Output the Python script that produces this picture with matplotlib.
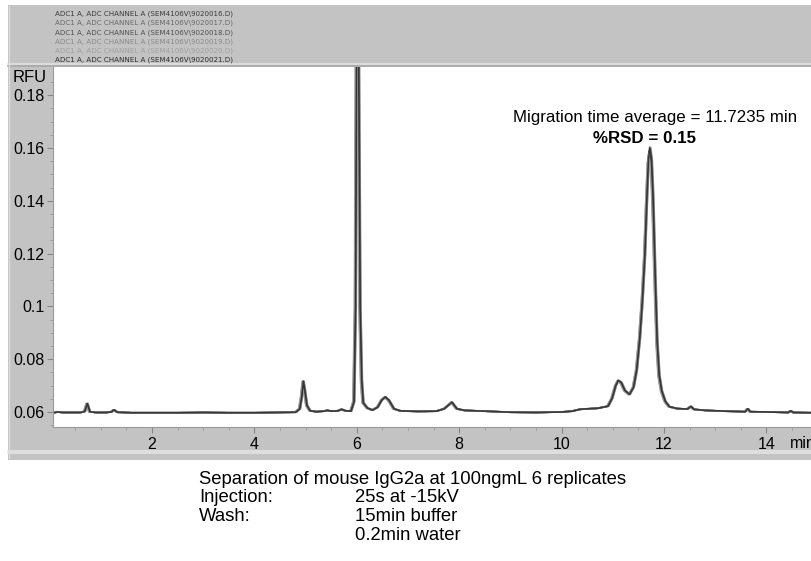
import matplotlib
matplotlib.use("Agg")
import matplotlib.pyplot as plt
from matplotlib.patches import Rectangle
import numpy as np

plt.rcParams['font.family'] = ['Liberation Sans', 'DejaVu Sans']

# ---- data ----
time_min = [0.07, 0.15, 0.25, 0.40, 0.60, 0.68, 0.73, 0.78, 0.90, 1.10, 1.20, 1.25, 1.32, 1.60,
            2.00, 2.50, 3.00, 3.50, 4.00, 4.40, 4.80, 4.88, 4.92, 4.95, 4.98, 5.02, 5.08, 5.20,
            5.35, 5.42, 5.50, 5.62, 5.70, 5.78, 5.88, 5.94, 5.97, 6.00, 6.03, 6.06, 6.09, 6.12,
            6.20, 6.30, 6.40, 6.48, 6.55, 6.62, 6.72, 6.85, 7.20, 7.55, 7.70, 7.85, 7.95, 8.10,
            8.50, 9.00, 9.50, 10.00, 10.20, 10.35, 10.50, 10.70, 10.90, 10.98, 11.05, 11.10,
            11.16, 11.23, 11.32, 11.40, 11.46, 11.52, 11.57, 11.62, 11.66, 11.69, 11.72, 11.75,
            11.78, 11.82, 11.86, 11.90, 11.95, 12.02, 12.10, 12.25, 12.45, 12.52, 12.58, 12.80,
            13.20, 13.58, 13.63, 13.68, 14.00, 14.42, 14.47, 14.52, 14.89]
rfu = [0.0597, 0.0600, 0.0598, 0.0598, 0.0598, 0.0602, 0.0632, 0.0601, 0.0598, 0.0598, 0.0600,
       0.0608, 0.0599, 0.0597, 0.0597, 0.0597, 0.0598, 0.0597, 0.0597, 0.0598, 0.0599, 0.0612,
       0.0660, 0.0717, 0.0680, 0.0625, 0.0605, 0.0601, 0.0603, 0.0606, 0.0603, 0.0604, 0.0610,
       0.0604, 0.0603, 0.0640, 0.1000, 0.2500, 0.2000, 0.1000, 0.0720, 0.0635, 0.0615, 0.0607,
       0.0618, 0.0645, 0.0657, 0.0645, 0.0612, 0.0604, 0.0602, 0.0603, 0.0612, 0.0637, 0.0612,
       0.0606, 0.0603, 0.0599, 0.0598, 0.0600, 0.0603, 0.0610, 0.0612, 0.0614, 0.0622, 0.0652,
       0.0700, 0.0720, 0.0712, 0.0682, 0.0667, 0.0695, 0.0760, 0.0880, 0.1020, 0.1200, 0.1420,
       0.1560, 0.1603, 0.1560, 0.1420, 0.1130, 0.0870, 0.0740, 0.0680, 0.0640, 0.0620, 0.0613,
       0.0611, 0.0621, 0.0610, 0.0606, 0.0603, 0.0601, 0.0612, 0.0601, 0.0600, 0.0598, 0.0604,
       0.0598, 0.0597]

replicates = ['ADC1 A, ADC CHANNEL A (SEM4106V\\9020016.D)',
              'ADC1 A, ADC CHANNEL A (SEM4106V\\9020017.D)',
              'ADC1 A, ADC CHANNEL A (SEM4106V\\9020018.D)',
              'ADC1 A, ADC CHANNEL A (SEM4106V\\9020019.D)',
              'ADC1 A, ADC CHANNEL A (SEM4106V\\9020020.D)',
              'ADC1 A, ADC CHANNEL A (SEM4106V\\9020021.D)']
rep_time_shift = [0.000, 0.015, -0.012, 0.020, -0.018, 0.006]
rep_height = [1.000, 0.990, 0.985, 1.000, 0.975, 0.995]
rep_colors = ['#3a3a3a', '#6a6a6a', '#505050', '#8a8a8a', '#a0a0a0', '#2e2e2e']

x_ticks = [2, 4, 6, 8, 10, 12, 14]
y_ticks = [0.06, 0.08, 0.10, 0.12, 0.14, 0.16, 0.18]
y_ticklabels = ['0.06', '0.08', '0.1', '0.12', '0.14', '0.16', '0.18']

annot_line1 = 'Migration time average = 11.7235 min'
annot_line2 = '%RSD = 0.15'
caption = ['Separation of mouse IgG2a at 100ngmL 6 replicates',
           ('Injection:', '25s at -15kV'),
           ('Wash:', '15min buffer'),
           ('', '0.2min water')]

# ---- figure ----
W, H = 812, 561
fig = plt.figure(figsize=(W / 100, H / 100), dpi=100)
fig.patch.set_facecolor('white')

def fx(px):
    return px / W

def fy(py):
    return 1 - py / H

gray = '#c3c3c3'
# main gray panel
fig.patches.append(Rectangle((fx(8), fy(460)), fx(812 - 8), (460 - 5) / H,
                             transform=fig.transFigure, facecolor=gray,
                             edgecolor='none', zorder=-5))
# separator lines
for py, c in [(64, '#e2e2e2'), (66, '#a8a8a8'), (451, '#e4e4e4'), (453, '#e4e4e4')]:
    fig.add_artist(plt.Line2D([fx(8), 1], [fy(py), fy(py)], transform=fig.transFigure,
                              color=c, lw=1.2, zorder=-4))
fig.add_artist(plt.Line2D([fx(9), fx(9)], [fy(458), fy(6)], transform=fig.transFigure,
                          color='#dcdcdc', lw=1.0, zorder=-4))

# legend lines
for i, (name, c) in enumerate(zip(replicates, rep_colors)):
    fig.text(fx(55), fy(14 + i * 9.2), name, fontsize=5.1, color=c,
             va='center', ha='left', family='DejaVu Sans')

ax = fig.add_axes([fx(53), fy(427), fx(812 - 53), (427 - 67) / H])
ax.set_zorder(5)
ax.set_facecolor('white')
t = np.array(time_min)
v = np.array(rfu)
base = 0.0598
for sh, hs, c in zip(rep_time_shift, rep_height, rep_colors):
    ax.plot(t + sh, base + (v - base) * hs, color=c, lw=1.2, alpha=0.9)

ax.set_xlim(0.066, 14.89)
ax.set_ylim(0.0543, 0.1907)
ax.set_xticks(x_ticks)
ax.set_xticklabels([str(x) for x in x_ticks])
ax.set_xticks(np.arange(0.5, 14.9, 0.5), minor=True)
ax.set_yticks(y_ticks)
ax.set_yticklabels(y_ticklabels)
ax.set_yticks(np.arange(0.055, 0.19, 0.005), minor=True)
ax.tick_params(axis='both', which='major', direction='out', length=4, width=0.8,
               color='#888888', labelsize=11.5, pad=2)
ax.tick_params(axis='both', which='minor', direction='out', length=2.5, width=0.6,
               color='#999999')
ax.tick_params(axis='x', pad=3)
for s in ['top', 'right']:
    ax.spines[s].set_visible(False)
for s in ['left', 'bottom']:
    ax.spines[s].set_color('#999999')
    ax.spines[s].set_linewidth(0.8)

fig.text(fx(13), fy(78), 'RFU', fontsize=12, ha='left', va='center')
fig.text(fx(790), fy(443), 'min', fontsize=11.5, ha='left', va='center')

ax.text(11.83, 0.1717, annot_line1, fontsize=12.2, ha='center', va='center')
ax.text(11.61, 0.1637, annot_line2, fontsize=12.2, ha='center', va='center', fontweight='bold')

fig.text(fx(199), fy(480), caption[0], fontsize=13.3, ha='left', va='center')
for i, (a, b) in enumerate(caption[1:]):
    yy = fy(498 + i * 18.5)
    if a:
        fig.text(fx(199), yy, a, fontsize=13.3, ha='left', va='center')
    fig.text(fx(355), yy, b, fontsize=13.3, ha='left', va='center')

fig.savefig('out.png', dpi=100)
